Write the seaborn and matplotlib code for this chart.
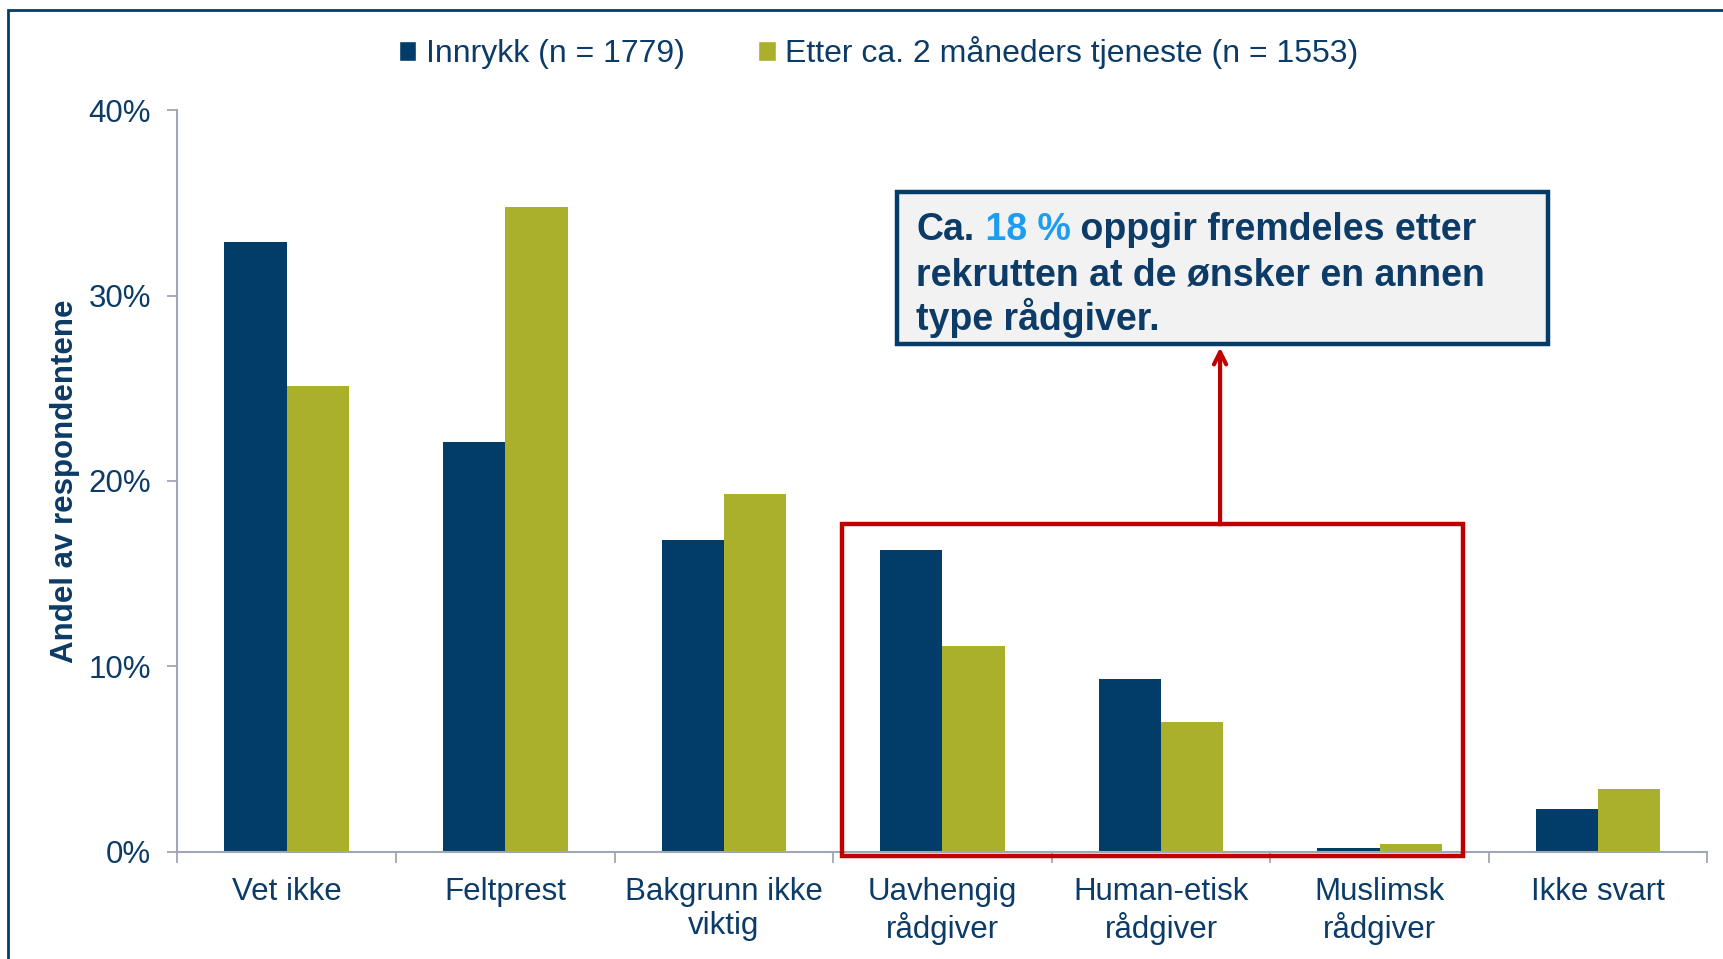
import matplotlib
matplotlib.use("Agg")
import matplotlib.pyplot as plt
from matplotlib.patches import Patch, Rectangle
import pandas as pd
import seaborn as sns

CATEGORIES = ["Vet ikke", "Feltprest", "Bakgrunn ikke\nviktig", "Uavhengig\nrådgiver",
              "Human-etisk\nrådgiver", "Muslimsk\nrådgiver", "Ikke svart"]
SERIES = ["Innrykk (n = 1779)", "Etter ca. 2 måneders tjeneste (n = 1553)"]
INNRYKK = [32.9, 22.1, 16.8, 16.3, 9.3, 0.2, 2.3]
ETTER = [25.1, 34.8, 19.3, 11.1, 7.0, 0.4, 3.4]
Y_TICKS = [0, 10, 20, 30, 40]

NAVY = "#023c68"
GREEN = "#aab02c"
TEXT = "#0b3b66"
AXIS = "#a0a6b4"
RED = "#c00000"
BLUE = "#1e9cf0"

sns.set_theme(style="white")
plt.rcParams["font.family"] = ["Liberation Sans", "DejaVu Sans"]

df = pd.DataFrame({
    "kategori": CATEGORIES * 2,
    "serie": [SERIES[0]] * len(CATEGORIES) + [SERIES[1]] * len(CATEGORIES),
    "andel": INNRYKK + ETTER,
})

fig = plt.figure(figsize=(17.23, 9.59), dpi=100)
ax = fig.add_axes([0.103, 0.112, 0.888, 0.773])

sns.barplot(data=df, x="kategori", y="andel", hue="serie", palette=[NAVY, GREEN],
            width=0.57, gap=0, saturation=1, linewidth=0, ax=ax)
ax.get_legend().remove()

ax.set_xlim(-0.5, len(CATEGORIES) - 0.5)
ax.set_ylim(0, 40)
ax.set_yticks(Y_TICKS)
ax.set_yticklabels([f"{t}%" for t in Y_TICKS])
ax.set_xticks(range(len(CATEGORIES)))
ax.set_xticklabels(CATEGORIES)
ax.set_xticks([i - 0.5 for i in range(len(CATEGORIES) + 1)], minor=True)
ax.set_xlabel("")
ax.set_ylabel("")

for side in ["top", "right"]:
    ax.spines[side].set_visible(False)
for side in ["left", "bottom"]:
    ax.spines[side].set_color(AXIS)
    ax.spines[side].set_linewidth(1.5)

ax.tick_params(axis="y", length=7, width=1.3, color=AXIS, labelsize=22.5,
               labelcolor=TEXT, pad=12, left=True)
ax.tick_params(axis="x", which="major", length=0, labelsize=22.5, labelcolor=TEXT, pad=18)
ax.tick_params(axis="x", which="minor", length=8, width=1.3, color=AXIS, bottom=True,
               direction="out")
for lbl in ax.get_xticklabels():
    lbl.set_linespacing(1.2)

fig.text(0.038, 0.498, "Andel av respondentene", rotation=90, ha="center", va="center",
         fontsize=22.5, fontweight="bold", color=TEXT)

# legend
handles = [Patch(facecolor=NAVY), Patch(facecolor=GREEN)]
fig.legend(handles, SERIES, loc="center", bbox_to_anchor=(0.51, 0.945), ncol=2,
           frameon=False, fontsize=23, labelcolor=TEXT, handlelength=0.55,
           handleheight=0.6, handletextpad=0.3, columnspacing=2.3)

# red highlight box + arrow
ax.add_patch(Rectangle((2.54, -0.24), 2.84, 17.9, fill=False, edgecolor=RED,
                       linewidth=3.2, clip_on=False, zorder=5))
ax.annotate("", xy=(4.27, 27.2), xytext=(4.27, 17.66),
            arrowprops=dict(arrowstyle="->", color=RED, lw=3, mutation_scale=22,
                            shrinkA=0, shrinkB=0), annotation_clip=False)

# callout box
ax.add_patch(Rectangle((2.79, 27.4), 2.98, 8.2, facecolor="#f2f2f2", edgecolor=NAVY,
                       linewidth=3.2, clip_on=False, zorder=6))
font = dict(fontsize=27, fontweight="bold", zorder=7, va="baseline")
t1 = ax.text(2.88, 33.0, "Ca.", color=TEXT, **font)
t2 = ax.annotate(" 18 %", xy=(1, 0), xycoords=t1, color=BLUE, ha="left", va="bottom",
                 fontsize=27, fontweight="bold", zorder=7)
ax.annotate(" oppgir fremdeles etter", xy=(1, 0), xycoords=t2, color=TEXT, ha="left",
            va="bottom", fontsize=27, fontweight="bold", zorder=7)
ax.text(2.88, 30.57, "rekrutten at de ønsker en annen", color=TEXT, **font)
ax.text(2.88, 28.15, "type rådgiver.", color=TEXT, **font)

# slide frame
fig.add_artist(Rectangle((8 / 1723, -0.1), 1.2, 1.1 - 10 / 959, transform=fig.transFigure,
                         fill=False, edgecolor=NAVY, linewidth=2))

fig.savefig("out.png", dpi=100)
